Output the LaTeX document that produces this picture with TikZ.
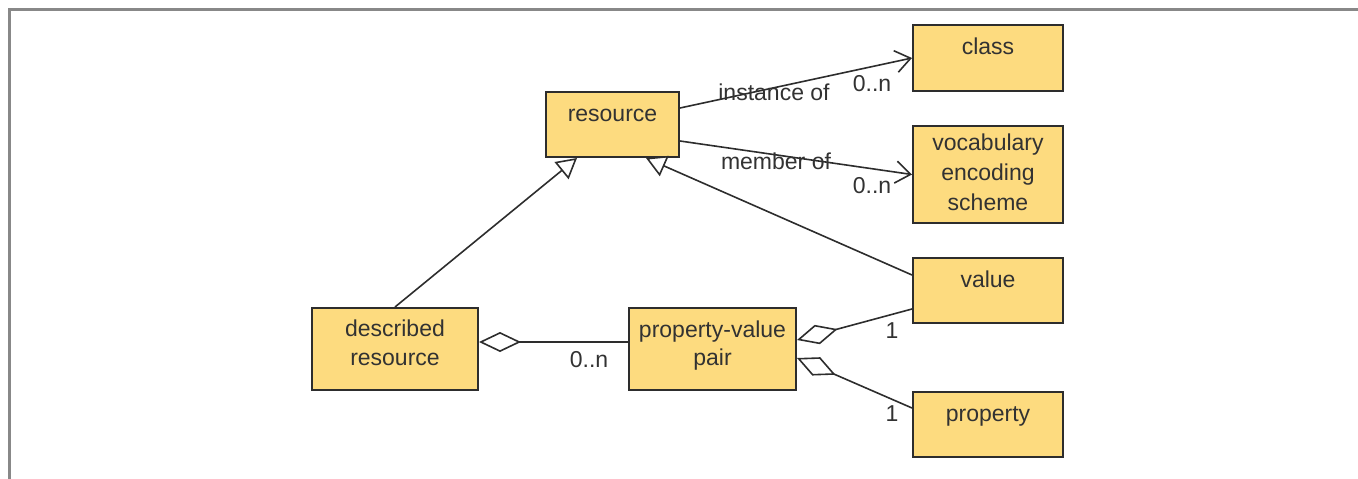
\documentclass[tikz,border=0pt]{standalone}
\usepackage{fontspec}
\setmainfont{Liberation Sans}
\usetikzlibrary{arrows.meta}
\definecolor{boxfill}{RGB}{253,219,127}
\definecolor{boxline}{RGB}{45,45,45}
\definecolor{txt}{RGB}{50,50,50}
\definecolor{frame}{RGB}{136,136,136}
\tikzset{
  cls/.style={draw=boxline, fill=boxfill, line width=2pt, inner sep=0pt, rectangle},
  ctext/.style={anchor=north, inner sep=0pt, align=center, text=txt,
    font=\fontsize{23}{29.5}\selectfont, execute at begin node=\strut},
  lbl/.style={inner sep=0pt, text=txt, font=\fontsize{23}{28}\selectfont},
  conn/.style={draw=boxline, line width=1.6pt},
  assoc/.style={conn, -{Straight Barb[length=15pt, width=22pt, line width=1.6pt]}},
  gen/.style={conn, -{Triangle[open, length=20pt, width=22pt, line width=1.6pt, fill=white]}},
  aggr/.style={conn, -{Diamond[open, length=42pt, width=20pt, line width=1.6pt, fill=white]}}
}
\begin{document}
\begin{tikzpicture}[x=1pt, y=-1pt]
\useasboundingbox (0,0) rectangle (1358,479);
\draw[frame, line width=3pt] (9,479) coordinate (fl) -- (9,9.5) coordinate (fc) -- (1358,9.5) coordinate (fr);

% boxes
\node[cls, minimum width=133pt, minimum height=65pt] (res) at (612.5,124.5) {};
\node[cls, minimum width=150pt, minimum height=66pt] (cla) at (988,58) {};
\node[cls, minimum width=150pt, minimum height=97pt] (voc) at (988,174.5) {};
\node[cls, minimum width=150pt, minimum height=65pt] (val) at (988,290.5) {};
\node[cls, minimum width=150pt, minimum height=65pt] (pro) at (988,424.5) {};
\node[cls, minimum width=166pt, minimum height=82pt] (des) at (395,349) {};
\node[cls, minimum width=167pt, minimum height=82pt] (pvp) at (712.5,349) {};

% box texts
\node[ctext] (tres) at ([yshift=-9.5pt]res.north) {resource};
\node[ctext] (tcla) at ([yshift=-9.5pt]cla.north) {class};
\node[ctext, font=\fontsize{23}{30}\selectfont] (tvoc) at ([yshift=-9pt]voc.north) {vocabulary\\encoding\\scheme};
\node[ctext] (tval) at ([yshift=-10pt]val.north) {value};
\node[ctext] (tpro) at ([yshift=-10pt]pro.north) {property};
\node[ctext, font=\fontsize{23}{29}\selectfont] (tdes) at ([yshift=-12.5pt]des.north) {described\\resource};
\node[ctext, font=\fontsize{23}{28}\selectfont] (tpvp) at ([yshift=-14pt]pvp.north) {property-value\\pair};

% connectors
\draw[assoc] ([yshift=16.5pt]res.east) -- (cla.west);
\draw[assoc] ([yshift=-16.5pt]res.east) -- (voc.west);
\draw[gen] (des.north) -- ([xshift=32pt]res.south west);
\draw[gen] ([yshift=15.5pt]val.west) -- ([xshift=101pt]res.south west);
\draw[aggr] ([yshift=7pt]pvp.west) -- ([yshift=7pt]des.east);
\draw[aggr] ([yshift=-18.5pt]val.west) -- ([yshift=9pt]pvp.east);
\draw[aggr] ([yshift=16.5pt]pro.west) -- ([yshift=-9pt]pvp.east);

% labels
\node[lbl] (l1) at (774,92) {instance of};
\node[lbl] (l2) at (872,84) {0..n};
\node[lbl] (l3) at (776,161) {member of};
\node[lbl] (l4) at (872,186) {0..n};
\node[lbl] (l5) at (589,360) {0..n};
\node[lbl] (l6) at (892,331) {1};
\node[lbl] (l7) at (892,414) {1};
\end{tikzpicture}
\end{document}
